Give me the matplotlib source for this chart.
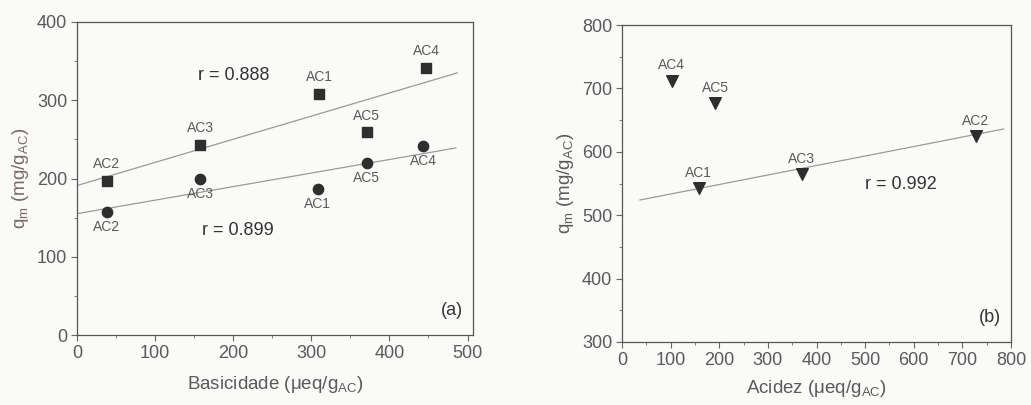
import matplotlib
matplotlib.use("Agg")
import matplotlib.pyplot as plt
from matplotlib.ticker import MultipleLocator

plt.rcParams["font.family"] = ["Liberation Sans", "DejaVu Sans"]
plt.rcParams["mathtext.fontset"] = "custom"
plt.rcParams["mathtext.rm"] = "Liberation Sans"
plt.rcParams["mathtext.it"] = "Liberation Sans"

# (a) qm vs basicidade
basic_labels_sq = ["AC2", "AC3", "AC1", "AC5", "AC4"]
basic_x_sq = [38, 158, 310, 371, 447]
qm_sq = [197, 243, 308, 259, 341]

basic_labels_ci = ["AC2", "AC3", "AC1", "AC5", "AC4"]
basic_x_ci = [38, 158, 308, 371, 443]
qm_ci = [157, 200, 187, 220, 242]

fit_sq_x = [0, 487]
fit_sq_y = [191, 335]
fit_ci_x = [0, 485]
fit_ci_y = [155, 239]

# (b) qm vs acidez
acid_labels = ["AC4", "AC5", "AC1", "AC3", "AC2"]
acid_x = [102, 192, 158, 370, 728]
qm_tri = [712, 677, 543, 565, 625]

fit_tri_x = [37, 785]
fit_tri_y = [524, 636]

TXT = "#5a5a5a"
MARK = "#2e2e2e"
LINE = "#9a9a9a"
BG = "#fafaf8"

fig = plt.figure(figsize=(10.31, 4.05), dpi=100, facecolor=BG)
W, H = 1031, 405


def style_axes(ax):
    ax.set_facecolor(BG)
    for s in ax.spines.values():
        s.set_color("#555555")
        s.set_linewidth(0.9)
    ax.tick_params(which="both", direction="out", colors="#666666", labelcolor=TXT,
                   labelsize=13)
    ax.tick_params(which="major", length=4, pad=3)
    ax.tick_params(which="minor", length=2)


# panel (a)
ax1 = fig.add_axes([77 / W, (H - 335) / H, 396 / W, 313 / H])
style_axes(ax1)
ax1.set_xlim(0, 507)
ax1.set_ylim(0, 400)
ax1.xaxis.set_major_locator(MultipleLocator(100))
ax1.xaxis.set_minor_locator(MultipleLocator(50))
ax1.yaxis.set_major_locator(MultipleLocator(100))
ax1.yaxis.set_minor_locator(MultipleLocator(50))

ax1.plot(fit_sq_x, fit_sq_y, color=LINE, lw=0.9)
ax1.plot(fit_ci_x, fit_ci_y, color=LINE, lw=0.9)
ax1.scatter(basic_x_sq, qm_sq, marker="s", s=50, color=MARK, zorder=3)
ax1.scatter(basic_x_ci, qm_ci, marker="o", s=55, color=MARK, zorder=3)

for lab, x, y in zip(basic_labels_sq, basic_x_sq, qm_sq):
    ax1.annotate(lab, (x, y), xytext=(0, 7), textcoords="offset points",
                 ha="center", va="bottom", fontsize=10, color=TXT)
for lab, x, y in zip(basic_labels_ci, basic_x_ci, qm_ci):
    ax1.annotate(lab, (x, y), xytext=(0, -6), textcoords="offset points",
                 ha="center", va="top", fontsize=10, color=TXT)

ax1.text(155, 331, "r = 0.888", fontsize=13, color="#333333", va="center")
ax1.text(160, 134, "r = 0.899", fontsize=13, color="#333333", va="center")
ax1.text(0.975, 0.05, "(a)", transform=ax1.transAxes, ha="right", va="bottom",
         fontsize=13, color="#333333")
ax1.set_xlabel(r"Basicidade ($\mu$eq/g$_{AC}$)", fontsize=13.5, color=TXT, labelpad=9)
ax1.set_ylabel(r"q$_m$ (mg/g$_{AC}$)", fontsize=13.5, color="#7a6868")

# panel (b)
ax2 = fig.add_axes([622 / W, (H - 342) / H, 389 / W, 317 / H])
style_axes(ax2)
ax2.set_xlim(0, 800)
ax2.set_ylim(300, 800)
ax2.xaxis.set_major_locator(MultipleLocator(100))
ax2.xaxis.set_minor_locator(MultipleLocator(50))
ax2.yaxis.set_major_locator(MultipleLocator(100))
ax2.yaxis.set_minor_locator(MultipleLocator(50))

ax2.plot(fit_tri_x, fit_tri_y, color=LINE, lw=0.9)
ax2.scatter(acid_x, qm_tri, marker="v", s=70, color=MARK, zorder=3)
for lab, x, y in zip(acid_labels, acid_x, qm_tri):
    ax2.annotate(lab, (x, y), xytext=(0, 6), textcoords="offset points",
                 ha="center", va="bottom", fontsize=10, color=TXT)

ax2.text(500, 549, "r = 0.992", fontsize=13, color="#333333", va="center")
ax2.text(0.975, 0.05, "(b)", transform=ax2.transAxes, ha="right", va="bottom",
         fontsize=13, color="#333333")
ax2.set_xlabel(r"Acidez ($\mu$eq/g$_{AC}$)", fontsize=13.5, color=TXT, labelpad=7)
ax2.set_ylabel(r"q$_m$ (mg/g$_{AC}$)", fontsize=13.5, color=TXT)

fig.savefig("out.png", dpi=100, facecolor=BG)
